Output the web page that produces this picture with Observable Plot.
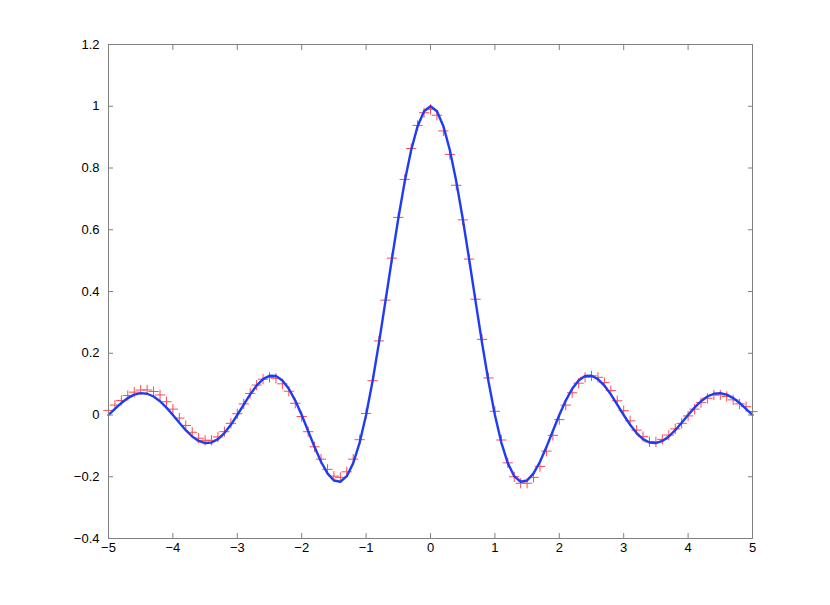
<!DOCTYPE html>
<html>
<head>
<meta charset="utf-8">
<script src="https://cdn.jsdelivr.net/npm/d3@7"></script>
<script src="https://cdn.jsdelivr.net/npm/@observablehq/plot@0.6"></script>
<style>
  html, body { margin: 0; padding: 0; background: #fff; }
  #chart { width: 830px; height: 605px; }
</style>
</head>
<body>
<div id="chart"></div>
<script>
const xs = [-5.0,-4.9,-4.8,-4.7,-4.6,-4.5,-4.4,-4.3,-4.2,-4.1,-4.0,-3.9,-3.8,-3.7,-3.6,-3.5,-3.4,-3.3,-3.2,-3.1,-3.0,-2.9,-2.8,-2.7,-2.6,-2.5,-2.4,-2.3,-2.2,-2.1,-2.0,-1.9,-1.8,-1.7,-1.6,-1.5,-1.4,-1.3,-1.2,-1.1,-1.0,-0.9,-0.8,-0.7,-0.6,-0.5,-0.4,-0.3,-0.2,-0.1,0.0,0.1,0.2,0.3,0.4,0.5,0.6,0.7,0.8,0.9,1.0,1.1,1.2,1.3,1.4,1.5,1.6,1.7,1.8,1.9,2.0,2.1,2.2,2.3,2.4,2.5,2.6,2.7,2.8,2.9,3.0,3.1,3.2,3.3,3.4,3.5,3.6,3.7,3.8,3.9,4.0,4.1,4.2,4.3,4.4,4.5,4.6,4.7,4.8,4.9,5.0];

// blue curve
const curve = [0,0.0201,0.0390,0.0548,0.0658,0.0707,0.0688,0.0599,0.0446,0.0240,0,-0.0252,-0.0492,-0.0696,-0.0841,-0.0909,-0.0890,-0.0780,-0.0585,-0.0317,0,0.0339,0.0668,0.0954,0.1164,0.1273,0.1261,0.1120,0.0850,0.0468,0,-0.0518,-0.1039,-0.1515,-0.1892,-0.2122,-0.2162,-0.1981,-0.1559,-0.0894,0,0.1093,0.2339,0.3679,0.5046,0.6366,0.7568,0.8584,0.9355,0.9836,1.0,0.9836,0.9355,0.8584,0.7568,0.6366,0.5046,0.3679,0.2339,0.1093,0,-0.0894,-0.1559,-0.1981,-0.2162,-0.2122,-0.1892,-0.1515,-0.1039,-0.0518,0,0.0468,0.0850,0.1120,0.1261,0.1273,0.1164,0.0954,0.0668,0.0339,0,-0.0317,-0.0585,-0.0780,-0.0890,-0.0909,-0.0841,-0.0696,-0.0492,-0.0252,0,0.0240,0.0446,0.0599,0.0688,0.0707,0.0658,0.0548,0.0390,0.0201,0];

// red "+" samples
const samples = [0.015,0.032,0.047,0.063,0.074,0.081,0.081,0.076,0.065,0.043,0.019,-0.010,-0.034,-0.056,-0.075,-0.082,-0.082,-0.071,-0.054,-0.027,0.004,0.036,0.070,0.097,0.116,0.122,0.119,0.101,0.077,0.038,-0.005,-0.054,-0.103,-0.143,-0.176,-0.198,-0.202,-0.184,-0.143,-0.080,0.005,0.111,0.240,0.372,0.508,0.640,0.763,0.863,0.938,0.979,0.990,0.971,0.920,0.844,0.744,0.632,0.505,0.375,0.245,0.120,0.012,-0.081,-0.155,-0.200,-0.221,-0.221,-0.202,-0.167,-0.117,-0.066,-0.015,0.032,0.072,0.103,0.122,0.127,0.122,0.105,0.079,0.046,0.014,-0.019,-0.049,-0.070,-0.087,-0.087,-0.079,-0.065,-0.045,-0.027,-0.003,0.019,0.040,0.054,0.065,0.065,0.060,0.049,0.036,0.027,0.011];

const xTicks = [-5,-4,-3,-2,-1,0,1,2,3,4,5];
const yTicks = [-0.4,-0.2,0,0.2,0.4,0.6,0.8,1,1.2];

const lineData = xs.map((x, i) => ({x, y: curve[i]}));
const dotData = xs.map((x, i) => ({x, y: samples[i]}));

const fmt = d => {
  const v = Math.round(d * 10) / 10;
  if (v === 0) return "0";
  return (v < 0 ? "\u2212" : "") + String(Math.abs(v));
};

const axisGrey = "#808080";

const chart = Plot.plot({
  width: 830,
  height: 605,
  marginLeft: 108,
  marginRight: 78,
  marginTop: 44,
  marginBottom: 67,
  style: {fontFamily: "'Liberation Sans', Arial, sans-serif", fontSize: "13px", background: "#fff", color: "black"},
  x: {domain: [-5, 5], label: null},
  y: {domain: [-0.4, 1.2], label: null},
  marks: [
    Plot.dot(dotData, {x: "x", y: "y", symbol: "plus", r: 3.4, stroke: "#ff4a4a", strokeWidth: 1}),
    Plot.line(lineData, {x: "x", y: "y", stroke: "#1f3cf5", strokeWidth: 2.4, strokeLinejoin: "round"}),
    Plot.frame({stroke: axisGrey, strokeWidth: 1}),
    // inward tick marks on all four sides
    Plot.axisX(xTicks, {anchor: "bottom", label: null, tickSize: -5, tickFormat: () => "", stroke: axisGrey}),
    Plot.axisX(xTicks, {anchor: "top", label: null, tickSize: -5, tickFormat: () => "", stroke: axisGrey}),
    Plot.axisY(yTicks, {anchor: "left", label: null, tickSize: -5, tickFormat: () => "", stroke: axisGrey}),
    Plot.axisY(yTicks, {anchor: "right", label: null, tickSize: -5, tickFormat: () => "", stroke: axisGrey}),
    // labels
    Plot.axisX(xTicks, {anchor: "bottom", label: null, tickSize: 0, tickPadding: 4, tickFormat: fmt, fill: "black", fontSize: 13}),
    Plot.axisY(yTicks, {anchor: "left", label: null, tickSize: 0, tickPadding: 9, tickFormat: fmt, fill: "black", fontSize: 13})
  ]
});

document.getElementById("chart").appendChild(chart);
</script>
</body>
</html>
